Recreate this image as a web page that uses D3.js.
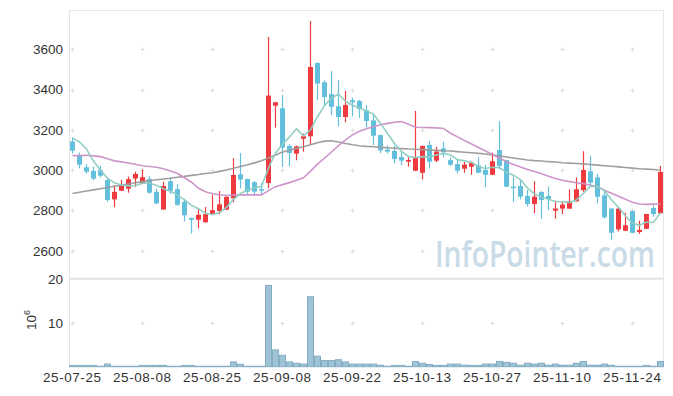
<!DOCTYPE html>
<html>
<head>
<meta charset="utf-8">
<script src="https://cdn.jsdelivr.net/npm/d3@7"></script>
<style>
  body { margin: 0; background: #fff; }
  text { font-family: "Liberation Sans", Arial, sans-serif; }
</style>
</head>
<body>
<svg id="chart" width="673" height="396"></svg>
<script>
// trading days (categories)
var dates = [
  "25-07-25","25-07-28","25-07-29","25-07-30","25-07-31","25-08-01","25-08-04","25-08-05","25-08-06","25-08-07",
  "25-08-08","25-08-11","25-08-12","25-08-13","25-08-14","25-08-18","25-08-19","25-08-20","25-08-21","25-08-22",
  "25-08-25","25-08-26","25-08-27","25-08-28","25-08-29","25-09-01","25-09-02","25-09-03","25-09-04","25-09-05",
  "25-09-08","25-09-09","25-09-10","25-09-11","25-09-12","25-09-15","25-09-16","25-09-17","25-09-18","25-09-19",
  "25-09-22","25-09-23","25-09-24","25-09-25","25-09-26","25-09-29","25-09-30","25-10-01","25-10-02","25-10-10",
  "25-10-13","25-10-14","25-10-15","25-10-16","25-10-17","25-10-20","25-10-21","25-10-22","25-10-23","25-10-24",
  "25-10-27","25-10-28","25-10-29","25-10-30","25-10-31","25-11-03","25-11-04","25-11-05","25-11-06","25-11-07",
  "25-11-10","25-11-11","25-11-12","25-11-13","25-11-14","25-11-17","25-11-18","25-11-19","25-11-20","25-11-21",
  "25-11-24","25-11-25","25-11-26","25-11-27","25-11-28"
];

var open = [3142,3074,3014,2996,3000,2951,2855,2898,2908,2958, 2935,2956,2892,2805,2945,2906,2843,2762,2754,2741,
  2781,2797,2804,2860,2979,2956,2940,2906,2936,3320, 3307,3120,3082,3156,3168,3532,3436,3377,3317,3264,
  3347,3343,3297,3247,3174,3102,3095,3065,3042,2997, 2987,3125,3047,3108,3050,3030,3007,3017,3024,3001,
  2977,3100,3050,2918,2921,2872,2832,2892,2872,2799, 2809,2809,2845,2901,2994,2964,2875,2809,2706,2699,
  2796,2693,2709,2812,2786];
var high = [3162,3087,3030,3017,3022,2956,2925,2952,2968,2992, 3004,2970,2908,2943,2965,2930,2858,2764,2808,2817,
  2878,2896,2870,3059,3085,2958,2946,2936,3661,3338, 3373,3128,3122,3181,3740,3535,3446,3492,3446,3393,
  3360,3350,3323,3274,3176,3122,3121,3092,3064,3294, 3122,3145,3116,3141,3062,3054,3040,3042,3064,3027,
  3087,3243,3052,2967,2951,2901,2945,2895,2918,2848, 2845,2905,2964,3094,3070,2981,2898,2812,2812,2789,
  2799,2749,2784,2825,3021];
var low = [3082,3009,2982,2950,2964,2843,2816,2896,2888,2918, 2930,2882,2831,2802,2882,2822,2745,2686,2711,2740,
  2777,2781,2802,2840,2910,2877,2877,2877,2910,3211, 3017,3019,3049,3092,3125,3348,3320,3274,3218,3237,
  3267,3260,3211,3125,3085,3083,3035,3025,3017,2995, 2954,3009,3040,3064,3020,2984,2987,2977,2985,2915,
  2975,3004,2915,2842,2855,2819,2786,2759,2802,2759, 2782,2807,2843,2893,2918,2835,2759,2653,2696,2698,
  2686,2683,2707,2769,2784];
var close = [3097,3027,2992,2958,2972,2852,2892,2921,2955,2981, 2965,2888,2835,2921,2898,2828,2776,2753,2778,2781,
  2801,2830,2867,2976,2953,2893,2893,2903,3370,3337, 3112,3085,3118,3168,3512,3430,3363,3314,3264,3323,
  3337,3304,3244,3171,3098,3092,3055,3047,3050,3065, 3120,3042,3092,3089,3027,2997,3027,3037,2987,2977,
  3044,3021,2918,2915,2868,2832,2868,2852,2856,2809, 2829,2845,2905,3001,2938,2868,2766,2689,2809,2726,
  2689,2703,2782,2782,2991];

// volume, millions of shares
var volume = [0.3,0.3,0.3,0.3,0.1,0.6,0.1,0.1,0.1,0.1, 0.3,0.3,0.3,0.3,0.1,0.1,0.3,0.3,0.1,0.1,
  0.1,0.1,0.1,1.1,0.55,0.1,0.1,0.1,18.6,3.85, 2.6,1.1,0.8,0.6,16.0,2.4,1.4,1.4,1.6,1.1,
  0.6,0.6,0.6,0.6,0.35,0.1,0.3,0.3,0.1,1.2, 0.8,0.5,0.3,0.3,0.6,0.6,0.35,0.3,0.3,0.6,
  0.6,1.2,1.0,0.8,0.35,0.8,0.6,0.8,0.35,0.6, 0.35,0.35,0.8,1.2,0.35,0.35,0.6,0.35,0.1,0.1,
  0.1,0.1,0.3,0.1,1.2];

// moving averages
var ma5 = [3160,3140,3105,3045,3000,2960,2937,2926,2922,2924, 2935,2935,2925,2908,2895,2876,2852,2825,2808,2786,
  2780,2790,2815,2855,2884,2900,2912,2918,3010,3085, 3128,3165,3206,3170,3200,3265,3320,3357,3378,3342,
  3322,3308,3294,3278,3232,3182,3132,3093,3068,3062, 3067,3066,3075,3083,3075,3052,3046,3038,3018,3008,
  3014,3013,2989,2975,2953,2911,2882,2867,2855,2844, 2843,2840,2852,2885,2920,2918,2898,2852,2815,2772,
  2736,2726,2742,2740,2789];
var ma20 = [3072,3073,3074,3071,3067,3057,3046,3041,3035,3029, 3022,3018,3014,3007,2996,2983,2962,2940,2910,2893,
  2883,2878,2874,2876,2877,2877,2877,2877,2898,2918, 2928,2938,2950,2962,2995,3030,3060,3090,3122,3150,
  3175,3193,3205,3215,3225,3232,3238,3241,3228,3213, 3212,3211,3210,3207,3183,3165,3147,3130,3112,3095,
  3078,3060,3042,3028,3016,3003,2993,2982,2970,2958, 2950,2943,2937,2933,2925,2917,2900,2885,2870,2855,
  2840,2832,2830,2831,2832];
var ma60 = [2884,2890,2896,2902,2908,2914,2920,2925,2931,2937, 2943,2947,2952,2956,2960,2965,2969,2974,2978,2983,
  2987,2994,3001,3009,3018,3027,3036,3047,3060,3075, 3090,3099,3108,3116,3126,3136,3144,3146,3140,3132,
  3126,3121,3118,3116,3113,3111,3109,3107,3105,3104, 3102,3100,3098,3096,3095,3092,3089,3086,3083,3080,
  3075,3070,3065,3060,3055,3050,3047,3045,3042,3040, 3037,3035,3033,3031,3028,3025,3022,3019,3016,3013,
  3010,3007,3005,3003,3001];

var priceTicks = [2600, 2800, 3000, 3200, 3400, 3600];
var volTicks = [10, 20];
var tickIdx = [0, 10, 20, 30, 40, 50, 60, 70, 80];

var svg = d3.select("#chart");
var left = 69, right = 664;

var x = d3.scaleBand()
    .domain(d3.range(dates.length))
    .range([left, right]);
var yP = d3.scaleLinear().domain([2462, 3795]).range([278.5, 10]);
var yV = d3.scaleLinear().domain([0, 20]).range([366.7, 279.3]);
var cx = function(i) { return x(i) + x.bandwidth() / 2; };

// frame
svg.append("line").attr("x1", left).attr("x2", right - 0.5).attr("y1", 10.5).attr("y2", 10.5)
    .attr("stroke", "#e6e6e6");
svg.append("line").attr("x1", left + 0.5).attr("x2", left + 0.5).attr("y1", 10).attr("y2", 367)
    .attr("stroke", "#e3e3e3");
svg.append("line").attr("x1", right - 0.5).attr("x2", right - 0.5).attr("y1", 10).attr("y2", 367)
    .attr("stroke", "#e6e6e6");
svg.append("line").attr("x1", left).attr("x2", right).attr("y1", 278.8).attr("y2", 278.8)
    .attr("stroke", "#e3e3e3").attr("stroke-width", 2);

// grid crosses
function crosses(ys) {
    var pts = [];
    tickIdx.forEach(function(i) { ys.forEach(function(y) { pts.push([cx(i), y]); }); });
    svg.append("g").selectAll("path")
        .data(pts)
        .enter()
        .append("path")
        .attr("d", function(d) { return "M" + (d[0] - 2) + "," + d[1] + "h4M" + d[0] + "," + (d[1] - 2) + "v4"; })
        .attr("stroke", "#dcdcdc")
        .attr("stroke-width", 1);
}
crosses(priceTicks.map(function(v) { return Math.round(yP(v)) + 0.5; }));
crosses([Math.round(yV(10)) + 0.5]);

// watermark
svg.append("text")
    .attr("x", 435).attr("y", 267)
    .attr("font-size", 36)
    .attr("font-weight", 600)
    .attr("textLength", 220)
    .attr("lengthAdjust", "spacingAndGlyphs")
    .attr("fill", "#c9dbe6")
    .style("font-family", "'Open Sans', sans-serif")
    .text("InfoPointer.com");

// y axis labels
svg.append("g").selectAll("text")
    .data(priceTicks)
    .enter()
    .append("text")
    .attr("x", 63)
    .attr("y", function(d) { return yP(d); })
    .attr("dy", "0.36em")
    .attr("text-anchor", "end")
    .attr("font-size", 13.5)
    .attr("fill", "#333")
    .text(function(d) { return d; });

svg.append("g").selectAll("text")
    .data(volTicks)
    .enter()
    .append("text")
    .attr("x", 63)
    .attr("y", function(d) { return yV(d); })
    .attr("dy", "0.36em")
    .attr("text-anchor", "end")
    .attr("font-size", 13.5)
    .attr("fill", "#333")
    .text(function(d) { return d; });

var unit = svg.append("text")
    .attr("transform", "translate(36,320) rotate(-90)")
    .attr("text-anchor", "middle")
    .attr("font-size", 13.5)
    .attr("fill", "#333");
unit.append("tspan").text("10");
unit.append("tspan").attr("dy", -6).attr("font-size", 9).text("6");

// x axis labels
svg.append("g").selectAll("text")
    .data(tickIdx)
    .enter()
    .append("text")
    .attr("x", function(i) { return cx(i) - 0.5; })
    .attr("y", 381.5)
    .attr("text-anchor", "middle")
    .attr("font-size", 13.5)
    .attr("fill", "#333")
    .attr("textLength", 58)
    .attr("lengthAdjust", "spacing")
    .text(function(i) { return dates[i]; });

// volume bars
svg.append("g").selectAll("rect")
    .data(volume)
    .enter()
    .append("rect")
    .attr("x", function(d, i) { return x(i) + 0.5; })
    .attr("y", function(d) { return yV(d); })
    .attr("width", x.bandwidth() - 1)
    .attr("height", function(d) { return yV(0) - yV(d); })
    .attr("fill", "#9ec3d5")
    .attr("stroke", "#84adc3")
    .attr("stroke-width", 1);

// candles
var up = "#ee3a3e", down = "#63c0dc";
var candles = svg.append("g").selectAll("g")
    .data(d3.range(dates.length))
    .enter()
    .append("g");

candles.append("line")
    .attr("x1", function(i) { return Math.floor(cx(i)) + 0.5; })
    .attr("x2", function(i) { return Math.floor(cx(i)) + 0.5; })
    .attr("y1", function(i) { return yP(high[i]); })
    .attr("y2", function(i) { return yP(low[i]); })
    .attr("stroke", function(i) { return close[i] >= open[i] ? up : down; })
    .attr("stroke-width", 1.2);

candles.append("rect")
    .attr("x", function(i) { return Math.floor(cx(i)) - 2; })
    .attr("y", function(i) { return yP(Math.max(open[i], close[i])); })
    .attr("width", 5)
    .attr("height", function(i) { return Math.max(1.5, Math.abs(yP(open[i]) - yP(close[i]))); })
    .attr("fill", function(i) { return close[i] >= open[i] ? up : down; });

// moving average lines
var line = function(arr) {
    return d3.line()
        .x(function(d, i) { return cx(i); })
        .y(function(d) { return yP(d); })(arr);
};
[[ma60, "#9a9a9a"], [ma20, "#cc8fc6"], [ma5, "#8ccdc2"]].forEach(function(m) {
    svg.append("path")
        .attr("d", line(m[0]))
        .attr("fill", "none")
        .attr("stroke", m[1])
        .attr("stroke-width", 1.6)
        .attr("opacity", 0.95);
});
</script>
</body>
</html>
